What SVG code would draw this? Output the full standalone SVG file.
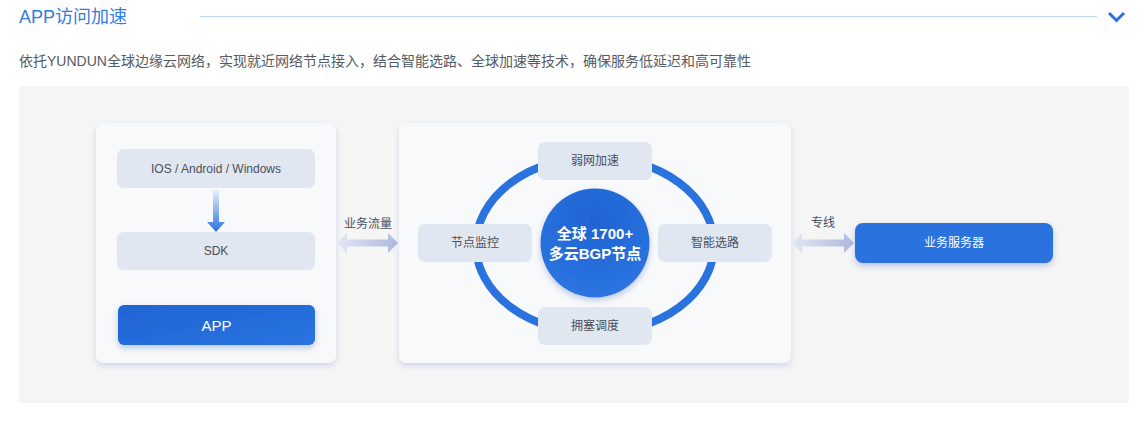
<svg xmlns="http://www.w3.org/2000/svg" width="1145" height="429" viewBox="0 0 1145 429">
<defs>
<style>
.t{font-family:"Liberation Sans","Noto Sans CJK SC",sans-serif;}
.lbl{font-size:12px;fill:#4a4f5a;text-anchor:middle;dominant-baseline:central;}
.wl{fill:#ffffff;text-anchor:middle;dominant-baseline:central;}
.chip{fill:#e1e7f1;}
.panel{fill:#f8f9fb;}
</style>
<linearGradient id="gDown" x1="0" y1="0" x2="0" y2="1">
<stop offset="0" stop-color="#2a72de" stop-opacity="0.05"/>
<stop offset="1" stop-color="#2a72de"/>
</linearGradient>
<linearGradient id="gBtn" x1="0" y1="0" x2="1" y2="1">
<stop offset="0" stop-color="#1f64d4"/>
<stop offset="1" stop-color="#2a74e0"/>
</linearGradient>
<linearGradient id="gArr" x1="0" y1="0" x2="1" y2="0">
<stop offset="0" stop-color="#e3e7f4"/>
<stop offset="1" stop-color="#aeb8de"/>
</linearGradient>
<radialGradient id="gCirc" cx="0.5" cy="0.3" r="0.7">
<stop offset="0" stop-color="#1f63d2"/>
<stop offset="1" stop-color="#2b75e1"/>
</radialGradient>
<filter id="sh" x="-20%" y="-20%" width="140%" height="150%">
<feDropShadow dx="0" dy="3" stdDeviation="3" flood-color="#c9d0e6" flood-opacity="0.8"/>
</filter>
<filter id="shb" x="-30%" y="-30%" width="160%" height="180%">
<feDropShadow dx="0" dy="3" stdDeviation="3" flood-color="#6f8cc9" flood-opacity="0.45"/>
</filter>
</defs>
<rect width="1145" height="429" fill="#ffffff"/>
<g id="header">
<text class="t" x="19" y="23" font-size="18" fill="#2f7de1">APP访问加速</text>
<line x1="200" y1="16.5" x2="1097" y2="16.5" stroke="#bcd6f5" stroke-width="1"/>
<polyline points="1109,13 1116.5,20.5 1124,13" fill="none" stroke="#2f6fd8" stroke-width="3"/>
<text class="t" x="19" y="66" font-size="14" fill="#555a63">依托YUNDUN全球边缘云网络，实现就近网络节点接入，结合智能选路、全球加速等技术，确保服务低延迟和高可靠性</text>
</g>
<rect x="19" y="86" width="1110" height="317" fill="#f5f5f5"/>
<g id="client-panel">
<rect class="panel" x="96" y="123" width="240" height="240" rx="7" filter="url(#sh)"/>
</g>
<g id="network-panel">
<rect class="panel" x="399" y="123" width="392" height="240" rx="7" filter="url(#sh)"/>
</g>
<g id="connectors">
<path d="M213,189 H219 V222 H225 L216,232 L207,222 H213 Z" fill="url(#gDown)"/>
<path d="M337,243 L347,233 V239.5 H388 V233 L398,243 L388,253 V246.5 H347 V253 Z" fill="url(#gArr)"/>
<text class="t lbl" x="368" y="224" font-size="11">业务流量</text>
<path d="M792,243 L802,233 V239.5 H844 V233 L854,243 L844,253 V246.5 H802 V253 Z" fill="url(#gArr)"/>
<text class="t lbl" x="823" y="223" font-size="11">专线</text>
<ellipse cx="595" cy="245" rx="119" ry="88" fill="none" stroke="#2a72de" stroke-width="8"/>
</g>
<g id="os">
<rect class="chip" x="117" y="149" width="198" height="39" rx="7"/>
<text class="t lbl" x="216" y="168.5" font-size="11.5">IOS / Android / Windows</text>
</g>
<g id="sdk">
<rect class="chip" x="117" y="232" width="198" height="38" rx="7"/>
<text class="t lbl" x="216" y="251">SDK</text>
</g>
<g id="app">
<rect x="118" y="305" width="197" height="40" rx="6" fill="url(#gBtn)" filter="url(#shb)"/>
<text class="t wl" x="216.5" y="325" font-size="15">APP</text>
</g>
<g id="weak-net">
<rect class="chip" x="538" y="142" width="114" height="38" rx="7"/>
<text class="t lbl" x="595" y="161">弱网加速</text>
</g>
<g id="congestion">
<rect class="chip" x="538" y="307" width="114" height="38" rx="7"/>
<text class="t lbl" x="595" y="326">拥塞调度</text>
</g>
<g id="monitor">
<rect class="chip" x="418" y="224" width="114" height="38" rx="7"/>
<text class="t lbl" x="475" y="243">节点监控</text>
</g>
<g id="routing">
<rect class="chip" x="658" y="224" width="114" height="38" rx="7"/>
<text class="t lbl" x="715" y="243">智能选路</text>
</g>
<g id="bgp">
<circle cx="595" cy="243" r="54.5" fill="url(#gCirc)" filter="url(#shb)"/>
<text class="t wl" x="595" y="233.5" font-size="15" font-weight="bold">全球 1700+</text>
<text class="t wl" x="595" y="253.5" font-size="15" font-weight="bold">多云BGP节点</text>
</g>
<g id="server">
<rect x="855" y="223" width="198" height="40" rx="8" fill="#2a72de" filter="url(#shb)"/>
<text class="t wl" x="954" y="243" font-size="12">业务服务器</text>
</g>
</svg>
